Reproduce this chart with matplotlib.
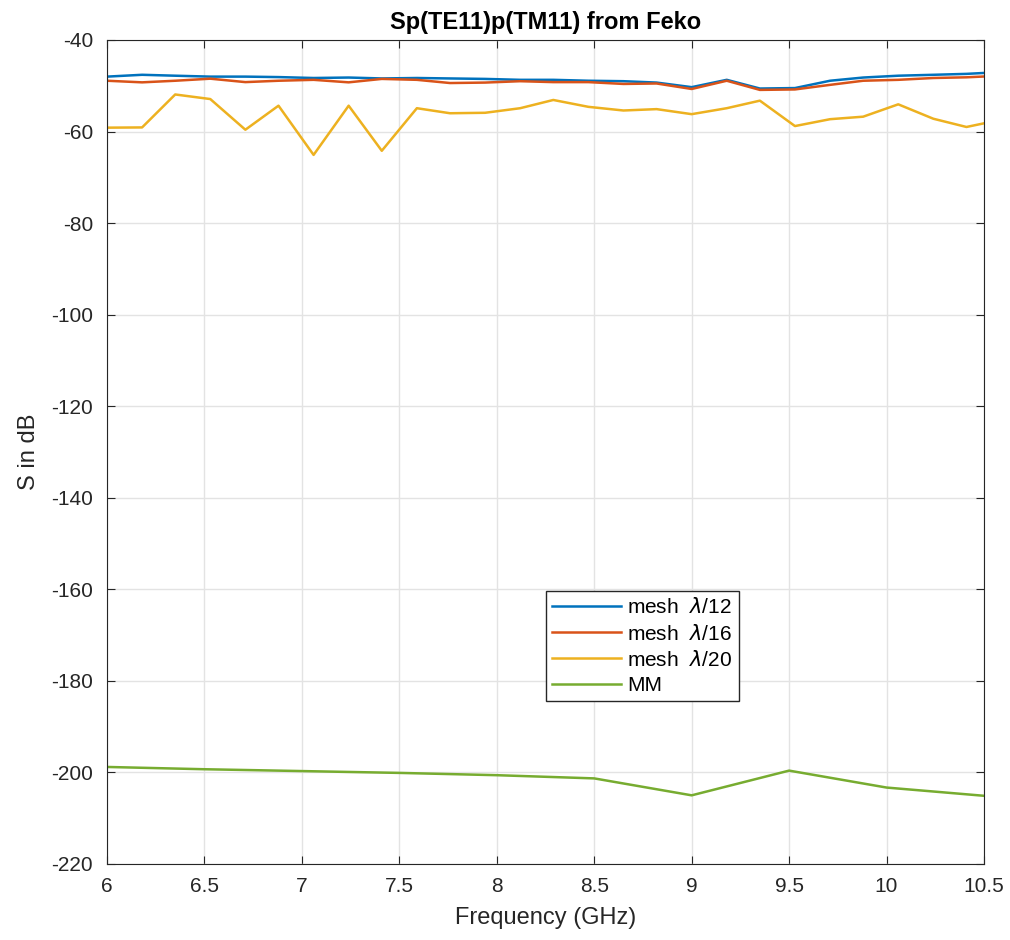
import matplotlib
matplotlib.use("Agg")
import matplotlib.pyplot as plt

# frequency points of the Feko sweeps (GHz)
freq = [6.00, 6.18, 6.35, 6.53, 6.71, 6.88, 7.06, 7.24, 7.41, 7.59, 7.76, 7.94, 8.12, 8.29,
        8.47, 8.65, 8.82, 9.00, 9.18, 9.35, 9.53, 9.71, 9.88, 10.06, 10.24, 10.41, 10.59]

mesh12 = [-48.0, -47.6, -47.8, -48.0, -48.0, -48.1, -48.3, -48.2, -48.4, -48.3, -48.4, -48.5, -48.7, -48.7,
          -48.9, -49.0, -49.3, -50.3, -48.7, -50.6, -50.5, -48.9, -48.2, -47.8, -47.6, -47.4, -47.0]
mesh16 = [-48.9, -49.25, -48.9, -48.45, -49.2, -48.9, -48.7, -49.25, -48.5, -48.7, -49.4, -49.3, -49.0, -49.2,
          -49.2, -49.6, -49.5, -50.7, -48.9, -50.9, -50.8, -49.8, -48.9, -48.7, -48.3, -48.15, -47.8]
mesh20 = [-59.15, -59.1, -51.9, -52.9, -59.6, -54.35, -65.1, -54.35, -64.2, -54.9, -56.0, -55.9, -54.9, -53.1,
          -54.6, -55.4, -55.1, -56.2, -54.9, -53.25, -58.8, -57.3, -56.75, -54.05, -57.2, -59.0, -57.4]

# mode matching reference
freq_mm = [6.0, 6.5, 7.0, 7.5, 8.0, 8.5, 9.0, 9.5, 10.0, 10.5]
mm = [-198.8, -199.3, -199.7, -200.1, -200.6, -201.3, -205.0, -199.6, -203.3, -205.1]

plt.rcParams['font.family'] = ['Liberation Sans', 'DejaVu Sans']
plt.rcParams['mathtext.fontset'] = 'dejavusans'
plt.rcParams['axes.unicode_minus'] = False

fig = plt.figure(figsize=(10.1, 9.4), dpi=100)
ax = fig.add_axes([107/1010, 76/940, 877/1010, 824/940])

lw = 1.8
ax.plot(freq, mesh12, color='#0072BD', lw=lw, label=r'mesh  $\mathit{\lambda}$/12')
ax.plot(freq, mesh16, color='#D95319', lw=lw, label=r'mesh  $\mathit{\lambda}$/16')
ax.plot(freq, mesh20, color='#EDB120', lw=lw, label=r'mesh  $\mathit{\lambda}$/20')
ax.plot(freq_mm, mm, color='#77AC30', lw=lw, label='MM')

ax.set_xlim(6, 10.5)
ax.set_ylim(-220, -40)
ax.set_xticks([6, 6.5, 7, 7.5, 8, 8.5, 9, 9.5, 10, 10.5])
ax.set_xticklabels(['6', '6.5', '7', '7.5', '8', '8.5', '9', '9.5', '10', '10.5'])
ax.set_yticks(range(-220, -39, 20))
ax.grid(True, color='#e3e3e3', lw=1)
ax.set_axisbelow(True)
ax.tick_params(direction='in', top=True, right=True, labelsize=15, colors='#262626', length=6)
ax.tick_params(axis='x', pad=9)
ax.tick_params(axis='y', pad=10)
for s in ax.spines.values():
    s.set_color('#262626')

ax.set_xlabel('Frequency (GHz)', fontsize=17, color='#262626', labelpad=8)
ax.set_ylabel('S in dB', fontsize=17, color='#262626', labelpad=8)
ax.set_title('Sp(TE11)p(TM11) from Feko', fontsize=17, fontweight='bold', pad=8)

leg = ax.legend(loc='upper left', bbox_to_anchor=(439/877, 273/824), fontsize=15,
                frameon=True, fancybox=False, edgecolor='#262626', framealpha=1,
                handlelength=3.3, handletextpad=0.3, borderpad=0.3,
                borderaxespad=0, labelspacing=0.3)
leg.get_frame().set_linewidth(1)

fig.savefig('out.png', dpi=100)
